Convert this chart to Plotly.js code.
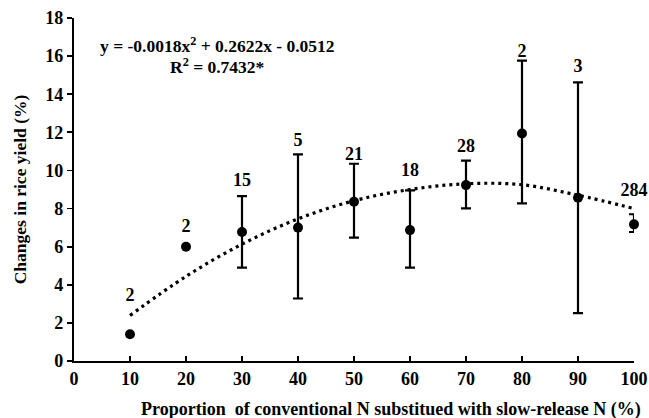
<!DOCTYPE html>
<html>
<head>
<meta charset="utf-8">
<script src="https://cdn.plot.ly/plotly-3.0.1.min.js"></script>
<style>
html,body{margin:0;padding:0;background:#fff;}
#chart{width:649px;height:418px;}
</style>
</head>
<body>
<div id="chart"></div>
<script>
// Data
var proportion = [10, 20, 30, 40, 50, 60, 70, 80, 90, 100];
var yieldChange = [1.4, 6.0, 6.77, 7.0, 8.36, 6.87, 9.23, 11.94, 8.57, 7.17];
var errUpper = [8.65, 10.84, 10.35, 8.95, 10.52, 15.76, 14.62, 7.7];
var errLower = [4.9, 3.28, 6.47, 4.9, 8.01, 8.27, 2.51, 6.77];
var sampleN = ['2', '2', '15', '5', '21', '18', '28', '2', '3', '284'];
var labelX = [10, 20, 30, 40, 50, 60, 70, 80, 90, 100];
var labelY = [3.4, 7.0, 9.4, 11.5, 10.8, 9.96, 11.2, 16.2, 15.4, 8.9];
var trendX = [10, 20, 30, 40, 50, 60, 70, 80, 90, 100];
var trendY = [2.39, 4.44, 6.13, 7.46, 8.41, 9.0, 9.3, 9.25, 8.7, 8.0];
var xTickVals = [0, 10, 20, 30, 40, 50, 60, 70, 80, 90, 100];
var xTitle = 'Proportion  of conventional N substitued with slow-release N (%)';
var yTitle = 'Changes in rice yield (%)';
var equationText = 'y = -0.0018x<sup>2</sup> + 0.2622x - 0.0512';
var r2Text = 'R<sup>2</sup> = 0.7432*';

var plus = proportion.map(function (x, i) { return i < 2 ? 0 : errUpper[i - 2] - yieldChange[i]; });
var minus = proportion.map(function (x, i) { return i < 2 ? 0 : yieldChange[i] - errLower[i - 2]; });

var FONT = 'Liberation Serif';
function f(size) { return {family: FONT, size: size, color: '#000', weight: 'bold'}; }

var traces = [
  {
    x: trendX, y: trendY, type: 'scatter', mode: 'lines',
    line: {color: '#000', width: 3.2, dash: '3px,4px', shape: 'spline'},
    cliponaxis: false, hoverinfo: 'skip'
  },
  {
    x: proportion.slice(2), y: yieldChange.slice(2), type: 'scatter', mode: 'markers',
    marker: {color: 'rgba(0,0,0,0)', size: 1},
    error_y: {type: 'data', symmetric: false,
      array: plus.slice(2), arrayminus: minus.slice(2),
      color: '#000', thickness: 2.2, width: 5},
    cliponaxis: false
  },
  {
    x: proportion, y: yieldChange, type: 'scatter', mode: 'markers',
    marker: {color: '#000', size: 10},
    cliponaxis: false
  },
  {
    x: labelX, y: labelY, type: 'scatter', mode: 'text', text: sampleN,
    textposition: 'middle center',
    textfont: f(18),
    cliponaxis: false, hoverinfo: 'skip'
  }
];

var layout = {
  width: 649, height: 418,
  margin: {l: 74, r: 15, t: 18, b: 57},
  paper_bgcolor: '#fff', plot_bgcolor: '#fff',
  showlegend: false,
  font: f(18),
  xaxis: {
    range: [0, 100], tickmode: 'array', tickvals: xTickVals,
    showgrid: false, zeroline: false,
    showline: true, linecolor: '#000', linewidth: 2.2,
    ticks: 'inside', ticklen: 5, tickwidth: 1.8, tickcolor: '#000',
    tickfont: f(18)
  },
  yaxis: {
    range: [0, 18], dtick: 2,
    showgrid: false, zeroline: false,
    showline: true, linecolor: '#000', linewidth: 2.2,
    ticks: 'outside', ticklen: 5, tickwidth: 1.8, tickcolor: '#000',
    tickfont: f(18),
    title: {text: yTitle, font: f(17.5), standoff: 14}
  },
  annotations: [
    {xref: 'paper', yref: 'paper', x: 0.256, y: 0.921, xanchor: 'center', yanchor: 'middle',
      text: equationText, showarrow: false, font: f(17.5)},
    {xref: 'paper', yref: 'paper', x: 0.256, y: 0.86, xanchor: 'center', yanchor: 'middle',
      text: r2Text, showarrow: false, font: f(17.5)},
    {xref: 'paper', yref: 'paper', x: 0.566, y: -0.14, xanchor: 'center', yanchor: 'middle',
      text: xTitle, showarrow: false, font: f(18)}
  ]
};

Plotly.newPlot('chart', traces, layout, {displayModeBar: false, staticPlot: true});
</script>
</body>
</html>
